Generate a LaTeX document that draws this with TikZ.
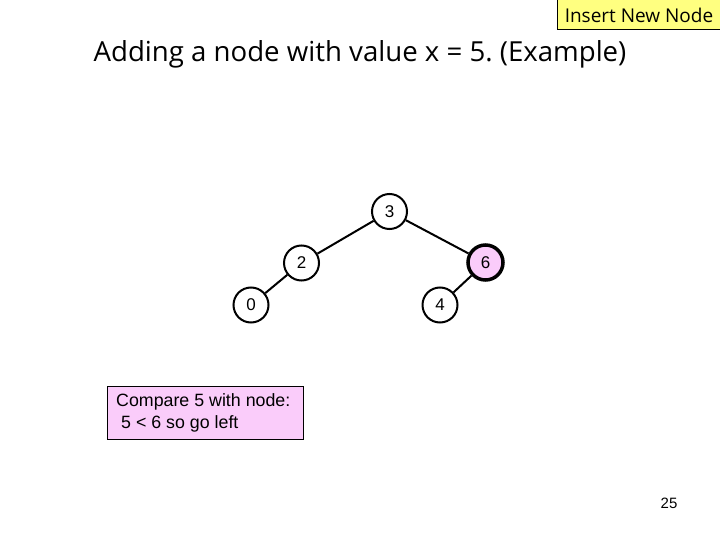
\documentclass[tikz,border=0pt]{standalone}
\usepackage{fontspec}
\setmainfont{Liberation Sans}
\newfontfamily\titlefont{Open Sans}
\frenchspacing
\definecolor{pinkfill}{RGB}{250,204,250}
\definecolor{yellowfill}{RGB}{255,255,128}
\begin{document}
\begin{tikzpicture}[x=1pt,y=-1pt,
  tnode/.style={circle,draw,line width=2pt,minimum size=35pt,inner sep=0pt,font=\fontsize{17}{19}\selectfont},
  hinode/.style={tnode,line width=3.5pt,fill=pinkfill},
  edge/.style={line width=2pt}]
\useasboundingbox (0,0) rectangle (720,540);
\fill[white] (0,0) rectangle (720,540);
\node[draw,fill=yellowfill,line width=1pt,minimum width=164pt,minimum height=30pt,inner sep=0pt,font=\titlefont\fontsize{19}{21}\selectfont] (hdr) at (639,15) {Insert New Node};
\node[font=\titlefont\fontsize{27.6}{32}\selectfont] (title) at (360,54) {Adding a node with value x = 5. (Example)};
\node[tnode] (n3) at (389.5,211.5) {3};
\node[tnode] (n2) at (301.5,263) {2};
\node[hinode] (n6) at (485.5,262.5) {6};
\node[tnode] (n0) at (251,305) {0};
\node[tnode] (n4) at (440,305) {4};
\draw[edge] (n3) -- (n2);
\draw[edge] (n3) -- (n6);
\draw[edge] (n2) -- (n0);
\draw[edge] (n6) -- (n4);
\node[draw,fill=pinkfill,line width=1pt,minimum width=196pt,minimum height=53pt,inner sep=0pt] (cmp) at (205,412.5) {};
\node[anchor=west,align=left,font=\fontsize{17.8}{22}\selectfont,inner sep=0pt] (cmptext) at (116,412.5) {Compare 5 with node:\\\hspace*{0.28em}5 < 6 so go left};
\node[font=\fontsize{15}{17}\selectfont] (pg) at (669,503) {25};
\end{tikzpicture}
\end{document}
